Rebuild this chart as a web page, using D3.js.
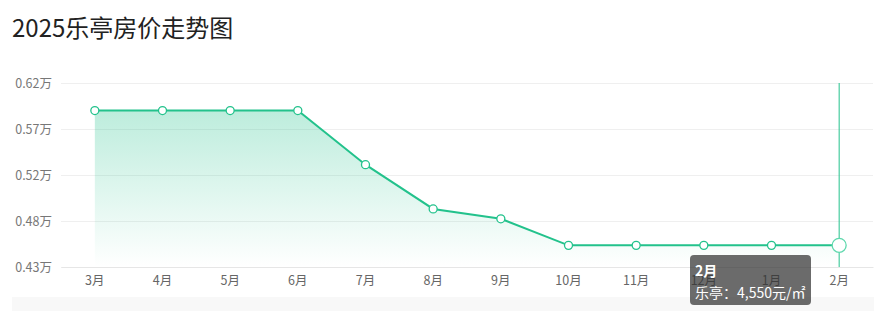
<!DOCTYPE html>
<html>
<head>
<meta charset="utf-8">
<script src="https://cdn.jsdelivr.net/npm/d3@7"></script>
<style>
  body { margin: 0; background: #fff; }
  #chart { width: 874px; height: 311px; }
  text { font-family: "Noto Sans CJK SC", "Noto Sans", sans-serif; }
</style>
</head>
<body>
<div id="chart"></div>
<script>
// chart data
var months = ["3月", "4月", "5月", "6月", "7月", "8月", "9月", "10月", "11月", "12月", "1月", "2月"];
var prices = [5920, 5920, 5920, 5920, 5370, 4920, 4820, 4550, 4550, 4550, 4550, 4550];
var yTickLabels = ["0.43万", "0.48万", "0.52万", "0.57万", "0.62万"];
var yDomain = [4330, 6200];
var cityName = "乐亭";
var chartTitle = "2025乐亭房价走势图";
var hoverIndex = 11;

var width = 874, height = 311;
var margin = { top: 83, right: 1, bottom: 44, left: 61 };
var green = "#23c28c";

var svg = d3.select("#chart").append("svg")
    .attr("width", width)
    .attr("height", height);

var defs = svg.append("defs");
var grad = defs.append("linearGradient")
    .attr("id", "areaGrad")
    .attr("x1", 0).attr("y1", 0).attr("x2", 0).attr("y2", 1);
grad.append("stop").attr("offset", "0%").attr("stop-color", green).attr("stop-opacity", 0.3);
grad.append("stop").attr("offset", "100%").attr("stop-color", green).attr("stop-opacity", 0.0);

// title
svg.append("text")
    .attr("x", 12)
    .attr("y", 37)
    .attr("font-size", "24px")
    .attr("fill", "#222")
    .text(chartTitle);

// bottom light band
svg.append("rect")
    .attr("x", 12).attr("y", 297)
    .attr("width", 862).attr("height", 14)
    .attr("fill", "#f8f8f8");

var x = d3.scaleBand()
    .domain(months)
    .range([margin.left, width - margin.right]);

var y = d3.scaleLinear()
    .domain(yDomain)
    .range([height - margin.bottom, margin.top]);

var tickVals = yTickLabels.map(function(d, i) {
    return yDomain[0] + i * (yDomain[1] - yDomain[0]) / (yTickLabels.length - 1);
});

// y axis + grid
var yAxis = d3.axisLeft(y)
    .tickValues(tickVals)
    .tickSize(-(width - margin.left - margin.right))
    .tickPadding(9)
    .tickFormat(function(d, i) { return yTickLabels[i]; });

var gy = svg.append("g")
    .attr("transform", "translate(" + margin.left + ",0)")
    .call(yAxis);
gy.select(".domain").remove();
gy.selectAll(".tick line").attr("stroke", "#efefef");
gy.selectAll(".tick text")
    .attr("fill", "#777")
    .style("font-size", "12.5px")
    .style("font-family", "'Noto Sans CJK SC', sans-serif");

// x axis
var xAxis = d3.axisBottom(x).tickSize(0).tickPadding(9);
var gx = svg.append("g")
    .attr("transform", "translate(0," + (height - margin.bottom) + ")")
    .call(xAxis);
gx.select(".domain").attr("stroke", "#e6e6e6");
gx.selectAll(".tick text")
    .attr("fill", "#666")
    .style("font-size", "12.5px")
    .style("font-family", "'Noto Sans CJK SC', sans-serif");

var cx = function(d, i) { return x(months[i]) + x.bandwidth() / 2; };

// area
var area = d3.area()
    .x(function(d, i) { return cx(d, i); })
    .y0(height - margin.bottom)
    .y1(function(d) { return y(d); });

svg.append("path")
    .datum(prices)
    .attr("d", area)
    .attr("fill", "url(#areaGrad)");

// crosshair
svg.append("line")
    .attr("x1", cx(null, hoverIndex)).attr("x2", cx(null, hoverIndex))
    .attr("y1", margin.top).attr("y2", height - margin.bottom)
    .attr("stroke", green)
    .attr("stroke-width", 1);

// line
var line = d3.line()
    .x(function(d, i) { return cx(d, i); })
    .y(function(d) { return y(d); });

svg.append("path")
    .datum(prices)
    .attr("d", line)
    .attr("fill", "none")
    .attr("stroke", green)
    .attr("stroke-width", 2);

// points
svg.selectAll("circle.pt")
    .data(prices)
    .enter()
    .append("circle")
    .attr("class", "pt")
    .attr("cx", function(d, i) { return cx(d, i); })
    .attr("cy", function(d) { return y(d); })
    .attr("r", function(d, i) { return i === hoverIndex ? 7 : 4; })
    .attr("fill", "#fff")
    .attr("stroke", function(d, i) { return i === hoverIndex ? "#5fd8ad" : green; })
    .attr("stroke-width", 1.3);

// tooltip
var tip = svg.append("g")
    .attr("transform", "translate(690,255)");
tip.append("rect")
    .attr("width", 121).attr("height", 50)
    .attr("rx", 4).attr("ry", 4)
    .attr("fill", "rgba(50,50,50,0.72)");
tip.append("text")
    .attr("x", 5).attr("y", 21)
    .attr("fill", "#fff")
    .attr("font-size", "14px")
    .attr("font-weight", "bold")
    .text(months[hoverIndex]);
tip.append("text")
    .attr("x", 5).attr("y", 43)
    .attr("fill", "#fff")
    .attr("font-size", "14px")
    .text(cityName + "：" + d3.format(",")(prices[hoverIndex]) + "元/㎡");
</script>
</body>
</html>
